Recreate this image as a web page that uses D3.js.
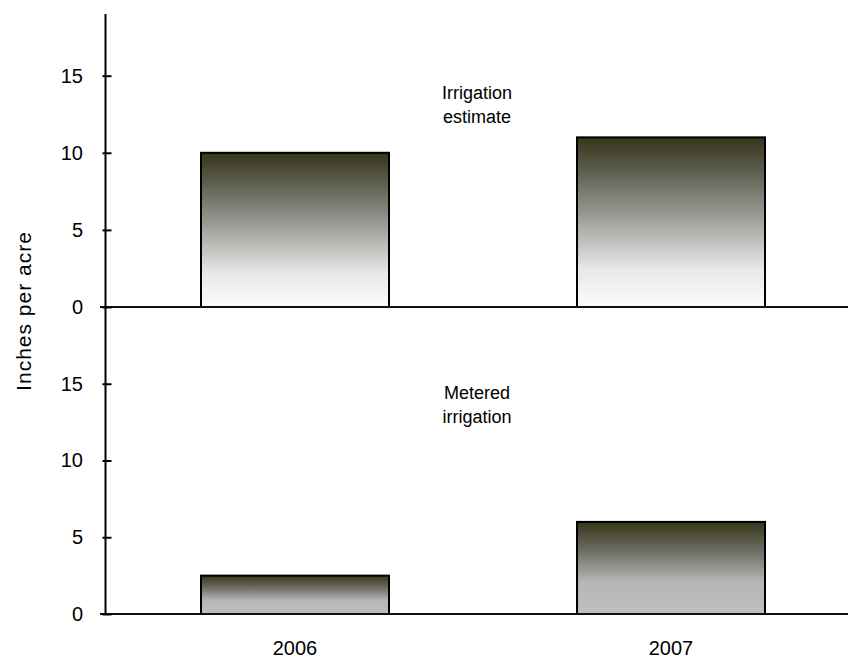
<!DOCTYPE html>
<html lang="en">
<head>
<meta charset="UTF-8" />
<title>Irrigation</title>
<script src="https://cdn.jsdelivr.net/npm/d3@7"></script>
<style>
	body { margin: 0; background: #fff; }
	text { font-family: "Liberation Sans", Arial, sans-serif; fill: #000; }
</style>
</head>
<body>
<svg id="vis" width="848" height="658"></svg>
<script>
	// données
	const years = ["2006", "2007"];
	const estimate = [10, 11];
	const metered = [2.5, 6];
	const yTicks = [0, 5, 10, 15];
	const panelLabels = [["Irrigation", "estimate"], ["Metered", "irrigation"]];

	const svg = d3.select("#vis");

	// dégradés des barres
	const defs = svg.append("defs");
	function gradient(id, stops) {
		let g = defs.append("linearGradient").attr("id", id)
			.attr("x1", 0).attr("y1", 0).attr("x2", 0).attr("y2", 1);
		stops.forEach(s => g.append("stop").attr("offset", s[0]).attr("stop-color", s[1]));
	}
	gradient("gTop", [[0, "#36361a"], [0.2, "#5e5e50"], [0.5, "#a4a4a0"], [0.78, "#e8e8e8"], [1, "#fcfcfc"]]);
	gradient("gBot", [[0, "#36361a"], [0.3, "#6a6a60"], [0.65, "#b6b6b6"], [1, "#bfbfbf"]]);

	const axisX = 105.5;

	// Echelle X
	let x = d3.scaleBand().domain(years).range([107, 859]).paddingInner(0.5).paddingOuter(0.25);

	// Deux panneaux
	let panels = [
		{ values: estimate, y: d3.scaleLinear().domain([0, 19]).range([307, 14]), grad: "gTop", labelY: 93 },
		{ values: metered, y: d3.scaleLinear().domain([0, 20]).range([614, 307]), grad: "gBot", labelY: 393 }
	];

	panels.forEach(function (p, pi) {
		let g = svg.append("g");

		// barres
		g.selectAll("rect").data(years).enter().append("rect")
			.attr("x", d => x(d))
			.attr("width", x.bandwidth())
			.attr("y", (d, i) => p.y(p.values[i]))
			.attr("height", (d, i) => p.y(0) - p.y(p.values[i]))
			.attr("fill", "url(#" + p.grad + ")")
			.attr("stroke", "#000")
			.attr("stroke-width", 2);

		// ligne du zéro
		g.append("line")
			.attr("x1", 100).attr("x2", 848)
			.attr("y1", p.y(0)).attr("y2", p.y(0))
			.attr("stroke", "#111").attr("stroke-width", 2);

		// axe Y
		let yAxis = d3.axisLeft(p.y).tickValues(yTicks).tickSize(3).tickPadding(19.5);
		let ga = g.append("g").attr("transform", "translate(" + axisX + ",0)").call(yAxis);
		ga.select(".domain").remove();
		ga.selectAll(".tick line").attr("x1", 6).attr("stroke-width", 2);
		ga.selectAll(".tick text").attr("font-size", 20).attr("font-family", "Liberation Sans, Arial, sans-serif");

		// étiquette du panneau
		let t = g.append("text").attr("x", 477).attr("y", p.labelY)
			.attr("text-anchor", "middle").attr("font-size", 18);
		panelLabels[pi].forEach((s, k) => t.append("tspan").attr("x", 477).attr("dy", k == 0 ? "0.35em" : 24).text(s));
	});

	// ligne verticale de l'axe
	svg.append("line")
		.attr("x1", axisX).attr("x2", axisX)
		.attr("y1", 14).attr("y2", 614)
		.attr("stroke", "#000").attr("stroke-width", 2);

	// étiquettes des années
	svg.selectAll(".year").data(years).enter().append("text")
		.attr("class", "year")
		.attr("x", d => x(d) + x.bandwidth() / 2)
		.attr("y", 655)
		.attr("text-anchor", "middle")
		.attr("font-size", 20)
		.text(d => d);

	// titre de l'axe Y
	svg.append("text")
		.attr("transform", "translate(31,311) rotate(-90)")
		.attr("text-anchor", "middle")
		.attr("font-size", 21)
		.attr("letter-spacing", 1)
		.text("Inches per acre");
</script>
</body>
</html>
